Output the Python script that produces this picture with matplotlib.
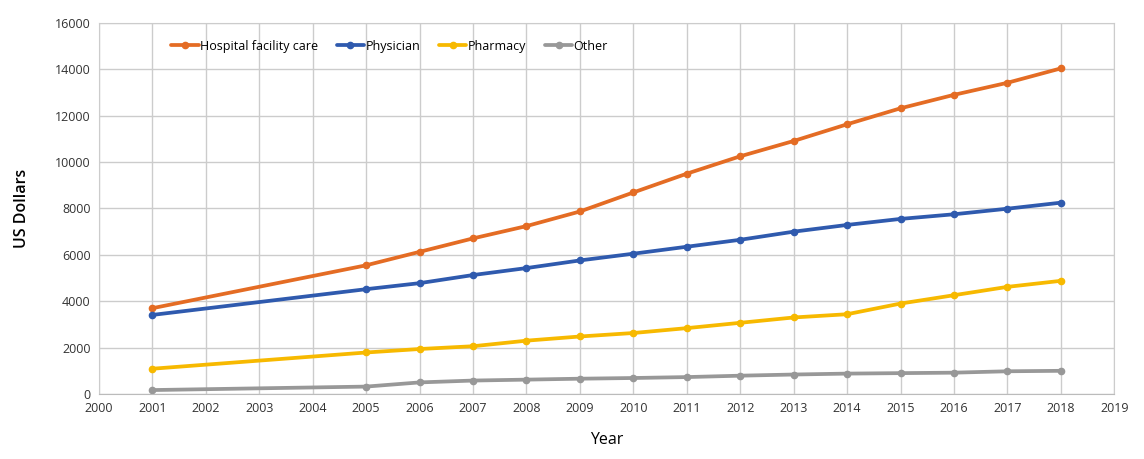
import matplotlib
matplotlib.use("Agg")
import matplotlib.pyplot as plt

years = [2001, 2005, 2006, 2007, 2008, 2009, 2010, 2011, 2012, 2013, 2014, 2015, 2016, 2017, 2018]
hospital = [3700, 5550, 6130, 6710, 7240, 7870, 8690, 9500, 10250, 10910, 11630, 12320, 12900, 13420, 14040]
physician = [3410, 4520, 4780, 5130, 5430, 5760, 6050, 6350, 6650, 7000, 7290, 7550, 7750, 7990, 8250]
pharmacy = [1090, 1790, 1940, 2060, 2300, 2480, 2630, 2840, 3070, 3300, 3440, 3900, 4260, 4620, 4880]
other = [170, 320, 500, 580, 620, 660, 690, 730, 790, 840, 880, 900, 920, 980, 1000]

series = [
    ("Hospital facility care", hospital, "#E46C24"),
    ("Physician", physician, "#2F5AAE"),
    ("Pharmacy", pharmacy, "#F7B900"),
    ("Other", other, "#989898"),
]

plt.rcParams['font.family'] = ['Open Sans', 'DejaVu Sans']

fig = plt.figure(figsize=(11.44, 4.59), dpi=100)
ax = fig.add_axes([0.0865, 0.1416, 0.8875, 0.8084])

for name, vals, col in series:
    ax.plot(years, vals, color=col, lw=2.7, marker='o', ms=4.5, label=name, solid_capstyle='round')

ax.set_xlim(2000, 2019)
ax.set_ylim(0, 16000)
ax.set_xticks(range(2000, 2020))
ax.set_yticks(range(0, 16001, 2000))
ax.grid(True, color='#CCCCCC', lw=1)
ax.set_axisbelow(True)
for s in ax.spines.values():
    s.set_color('#CCCCCC')
ax.spines['bottom'].set_color('#BBBBBB')
ax.tick_params(length=0, labelsize=9, colors='#333333', pad=6)

ax.set_xlabel("Year", fontsize=11.5, labelpad=12)
ax.set_ylabel("US Dollars", fontsize=11.5, labelpad=18, fontweight='semibold')

ax.legend(loc='upper left', bbox_to_anchor=(0.06, 0.985), ncol=4, frameon=False,
          fontsize=9, handlelength=2.2, handletextpad=0.1, columnspacing=1.5)

fig.savefig("out.png", dpi=100)
